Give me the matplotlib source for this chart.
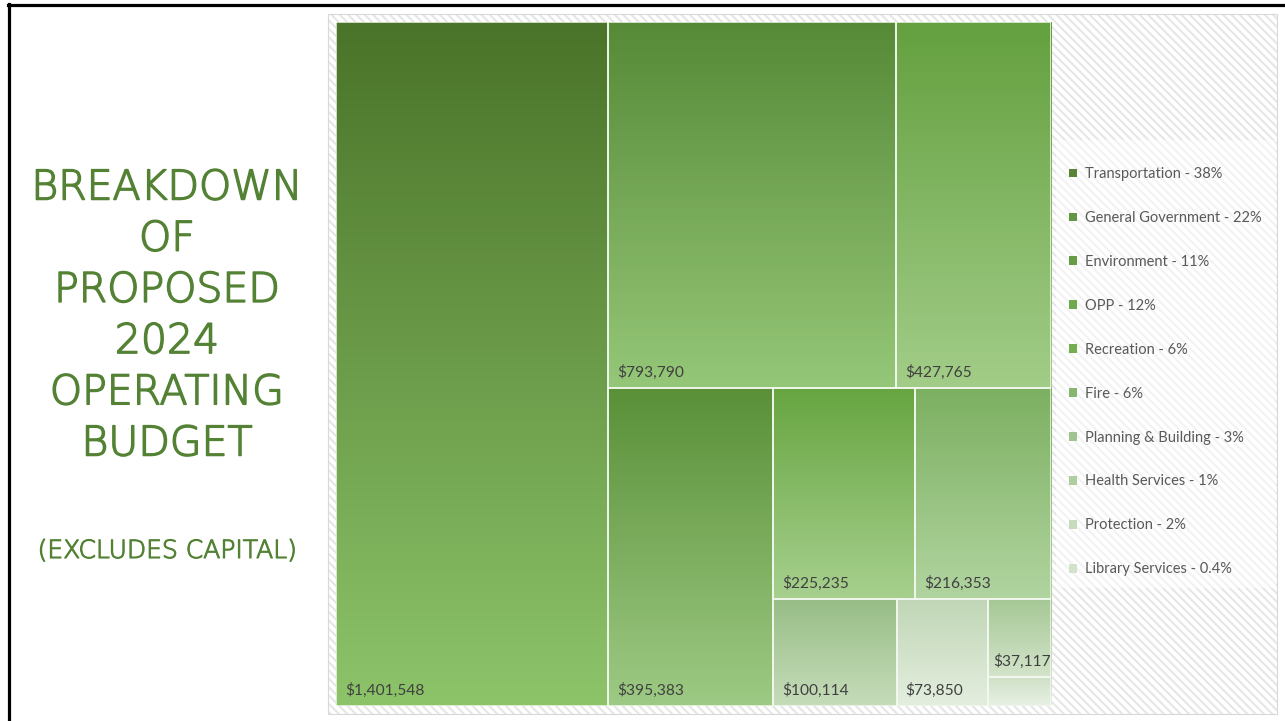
import numpy as np
import matplotlib
matplotlib.use("Agg")
import matplotlib.pyplot as plt
import matplotlib.patheffects as pe
from matplotlib.patches import Rectangle, Patch
from matplotlib.lines import Line2D
from matplotlib.colors import LinearSegmentedColormap, to_rgb

# ---------------- data ----------------
categories = ["Transportation", "General Government", "Environment", "OPP",
              "Recreation", "Fire", "Planning & Building", "Health Services",
              "Protection", "Library Services"]
values = [1401548, 793790, 395383, 427765, 225235, 216353, 100114, 37117, 73850, 14000]
pct_labels = ["38%", "22%", "11%", "12%", "6%", "6%", "3%", "1%", "2%", "0.4%"]

# gradient colours per category (top, bottom)
top_colors = ["#4a7429", "#578a37", "#5a9038", "#64a03f", "#67a541",
              "#7cb061", "#97bd85", "#a6c896", "#c0d6b5", "#cde0c4"]
bottom_colors = ["#8dc46a", "#95c778", "#9dca84", "#a2cd88", "#a7d08e",
                 "#b1d4a0", "#c6dcba", "#d3e4ca", "#e4eedf", "#e9f1e5"]

title_lines = ["BREAKDOWN", "OF", "PROPOSED", "2024", "OPERATING", "BUDGET"]
subtitle = "(EXCLUDES CAPITAL)"

# strip grouping / orientation used by the treemap layout (sorted order)
strip_sizes = [1, 2, 1, 2, 1, 1, 2]
strip_dirs = ["v", "h", "v", "h", "v", "v", "v"]   # v: column strip, h: row strip

# ---------------- figure ----------------
W_PX, H_PX = 1285, 721
fig = plt.figure(figsize=(W_PX / 100, H_PX / 100), dpi=100)
fig.patch.set_facecolor("white")


def fx(x):
    return x / W_PX


def fy(y):
    return 1 - y / H_PX


# black slide border (top + left)
fig.add_artist(Line2D([fx(8), fx(1285)], [fy(5), fy(5)], color="black", lw=2.3,
                      transform=fig.transFigure))
fig.add_artist(Line2D([fx(9), fx(9)], [fy(4), fy(721)], color="black", lw=2.3,
                      transform=fig.transFigure))

# hatched chart area
plt.rcParams["hatch.linewidth"] = 1.5
hx0, hy0, hx1, hy1 = 328, 14, 1277, 714
bg = Rectangle((fx(hx0), fy(hy1)), fx(hx1) - fx(hx0), fy(hy0) - fy(hy1),
               transform=fig.transFigure, facecolor="white", edgecolor="#e6e6e6",
               hatch="\\" * 4, lw=0, zorder=0)
fig.add_artist(bg)
fig.add_artist(Rectangle((fx(hx0), fy(hy1)), fx(hx1) - fx(hx0), fy(hy0) - fy(hy1),
                         transform=fig.transFigure, facecolor="none",
                         edgecolor="#d9d9d9", lw=0.8, zorder=1))
# legend panel (semi-transparent white)
fig.add_artist(Rectangle((fx(1056), fy(588)), fx(1276) - fx(1056), fy(140) - fy(588),
                         transform=fig.transFigure, facecolor="white", alpha=0.5,
                         edgecolor="none", zorder=1))

# ---------------- treemap ----------------
tx0, ty0, tx1, ty1 = 336, 22, 1051, 706
TW, TH = tx1 - tx0, ty1 - ty0
ax = fig.add_axes([fx(tx0), fy(ty1), fx(tx1) - fx(tx0), fy(ty0) - fy(ty1)])
ax.set_zorder(2)

order = sorted(range(len(values)), key=lambda i: -values[i])
svals = [values[i] for i in order]


def layout(vals, sizes, dirs, x, y, w, h):
    rects = []
    i = 0
    for n, d in zip(sizes, dirs):
        group = vals[i:i + n]
        gsum = sum(group)
        frac = gsum / sum(vals[i:])
        if d == "v":
            sw = w * frac
            yy = y
            for v in group:
                hh = h * v / gsum
                rects.append((x, yy, sw, hh))
                yy += hh
            x += sw
            w -= sw
        else:
            sh = h * frac
            xx = x
            for v in group:
                ww = w * v / gsum
                rects.append((xx, y, ww, sh))
                xx += ww
            y += sh
            h -= sh
        i += n
    return rects


rects = layout(svals, strip_sizes, strip_dirs, 0, 0, TW, TH)
grad = np.linspace(0, 1, 256).reshape(-1, 1)
for idx, (x, y, w, h) in zip(order, rects):
    cmap = LinearSegmentedColormap.from_list("g%d" % idx, [top_colors[idx], bottom_colors[idx]])
    ax.imshow(grad, extent=(x, x + w, y + h, y), origin="upper", cmap=cmap,
              aspect="auto", interpolation="bilinear", zorder=1)
    ax.add_patch(Rectangle((x, y), w, h, facecolor="none", edgecolor="#f4f8f1",
                           lw=1.1, zorder=2))
    if h > 40:
        pad = 9 if w > 80 else 5
        ax.text(x + pad, y + h - 8, "${:,}".format(values[idx]), ha="left", va="bottom",
                fontsize=11.2, color="#404040", family="Lato", zorder=3)

ax.set_xlim(0, TW)
ax.set_ylim(TH, 0)
ax.axis("off")

# ---------------- legend ----------------
def blend(c1, c2, t):
    a, b = np.array(to_rgb(c1)), np.array(to_rgb(c2))
    return tuple(a + (b - a) * t)


handles = [Patch(facecolor=blend(top_colors[i], bottom_colors[i], 0.2), edgecolor="none")
           for i in range(len(categories))]
labels = ["{} - {}".format(c, p) for c, p in zip(categories, pct_labels)]
leg = fig.legend(handles, labels, loc="upper left",
                 bbox_to_anchor=(fx(1059), fy(157)), frameon=False,
                 prop={"family": "Lato", "size": 10.5}, labelcolor="#595959",
                 labelspacing=2.05, handlelength=0.55, handleheight=0.55,
                 handletextpad=0.5, borderpad=0.2)
leg.set_zorder(5)

# ---------------- title ----------------
title_color = "#548235"
thick = [pe.withStroke(linewidth=1.1, foreground=title_color)]
for i, line in enumerate(title_lines):
    fig.text(fx(167), fy(188 + i * 51.2), line, ha="center", va="center",
             fontsize=29.5, color=title_color, family="DejaVu Sans", fontweight="light",
             path_effects=thick)
fig.text(fx(167), fy(551), subtitle, ha="center", va="center", fontsize=18,
         color=title_color, family="DejaVu Sans", fontweight="light",
         path_effects=[pe.withStroke(linewidth=0.8, foreground=title_color)])

fig.savefig("out.png", dpi=100)
